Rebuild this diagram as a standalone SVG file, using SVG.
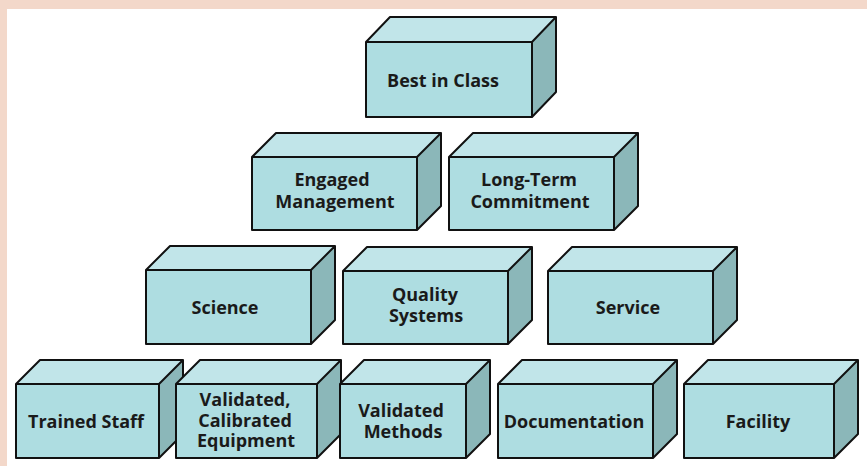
<svg xmlns="http://www.w3.org/2000/svg" width="867" height="466" viewBox="0 0 867 466">
  <style>
    .top { fill: #c1e5e9; }
    .front { fill: #aedde1; }
    .side { fill: #8bb7b9; }
    .edge { fill: none; stroke: #111; stroke-width: 2; stroke-linejoin: round; }
    .label { font-family: "Open Sans", "Liberation Sans", sans-serif; font-weight: 700; font-size: 18px; fill: #1a1a1a; text-anchor: middle; }
  </style>

  <!-- page frame -->
  <rect x="0" y="0" width="867" height="466" fill="#f3d8ca"/>
  <rect x="7" y="9" width="860" height="457" fill="#ffffff"/>

  <!-- row 1 -->
  <g id="best-in-class">
    <polygon class="top" points="366,42 390,17 556,17 532,42"/>
    <polygon class="side" points="532,42 556,17 556,92 532,117"/>
    <rect class="front" x="366" y="42" width="166" height="75"/>
    <path class="edge" d="M366,42 L390,17 L556,17 L556,92 L532,117 L366,117 Z M366,42 L532,42 L556,17 M532,42 L532,117"/>
    <text class="label" x="443" y="87">Best in Class</text>
  </g>

  <!-- row 2 -->
  <g id="engaged-management">
    <polygon class="top" points="252,157 276,133 441,133 417,157"/>
    <polygon class="side" points="417,157 441,133 441,206 417,230"/>
    <rect class="front" x="252" y="157" width="165" height="73"/>
    <path class="edge" d="M252,157 L276,133 L441,133 L441,206 L417,230 L252,230 Z M252,157 L417,157 L441,133 M417,157 L417,230"/>
    <text class="label" x="332" y="186">Engaged</text>
    <text class="label" x="335" y="208">Management</text>
  </g>

  <g id="long-term-commitment">
    <polygon class="top" points="449,157 473,133 638,133 614,157"/>
    <polygon class="side" points="614,157 638,133 638,206 614,230"/>
    <rect class="front" x="449" y="157" width="165" height="73"/>
    <path class="edge" d="M449,157 L473,133 L638,133 L638,206 L614,230 L449,230 Z M449,157 L614,157 L638,133 M614,157 L614,230"/>
    <text class="label" x="529" y="186">Long-Term</text>
    <text class="label" x="530" y="208">Commitment</text>
  </g>

  <!-- row 3 -->
  <g id="science">
    <polygon class="top" points="146,270 170,246 335,246 311,270"/>
    <polygon class="side" points="311,270 335,246 335,320 311,344"/>
    <rect class="front" x="146" y="270" width="165" height="74"/>
    <path class="edge" d="M146,270 L170,246 L335,246 L335,320 L311,344 L146,344 Z M146,270 L311,270 L335,246 M311,270 L311,344"/>
    <text class="label" x="225" y="314">Science</text>
  </g>

  <g id="quality-systems">
    <polygon class="top" points="343,271 367,247 532,247 508,271"/>
    <polygon class="side" points="508,271 532,247 532,320 508,344"/>
    <rect class="front" x="343" y="271" width="165" height="73"/>
    <path class="edge" d="M343,271 L367,247 L532,247 L532,320 L508,344 L343,344 Z M343,271 L508,271 L532,247 M508,271 L508,344"/>
    <text class="label" x="425" y="301">Quality</text>
    <text class="label" x="426" y="322">Systems</text>
  </g>

  <g id="service">
    <polygon class="top" points="548,271 572,247 737,247 713,271"/>
    <polygon class="side" points="713,271 737,247 737,320 713,344"/>
    <rect class="front" x="548" y="271" width="165" height="73"/>
    <path class="edge" d="M548,271 L572,247 L737,247 L737,320 L713,344 L548,344 Z M548,271 L713,271 L737,247 M713,271 L713,344"/>
    <text class="label" x="628" y="314">Service</text>
  </g>

  <!-- row 4 -->
  <g id="trained-staff">
    <polygon class="top" points="16,384 40,360 183,360 159,384"/>
    <polygon class="side" points="159,384 183,360 183,434 159,458"/>
    <rect class="front" x="16" y="384" width="143" height="74"/>
    <path class="edge" d="M16,384 L40,360 L183,360 L183,434 L159,458 L16,458 Z M16,384 L159,384 L183,360 M159,384 L159,458"/>
    <text class="label" x="86" y="428">Trained Staff</text>
  </g>

  <g id="validated-calibrated-equipment">
    <polygon class="top" points="176,384 200,360 341,360 317,384"/>
    <polygon class="side" points="317,384 341,360 341,434 317,458"/>
    <rect class="front" x="176" y="384" width="141" height="74"/>
    <path class="edge" d="M176,384 L200,360 L341,360 L341,434 L317,458 L176,458 Z M176,384 L317,384 L341,360 M317,384 L317,458"/>
    <text class="label" x="245" y="406">Validated,</text>
    <text class="label" x="245" y="427">Calibrated</text>
    <text class="label" x="246" y="447">Equipment</text>
  </g>

  <g id="validated-methods">
    <polygon class="top" points="340,384 364,360 490,360 466,384"/>
    <polygon class="side" points="466,384 490,360 490,434 466,458"/>
    <rect class="front" x="340" y="384" width="126" height="74"/>
    <path class="edge" d="M340,384 L364,360 L490,360 L490,434 L466,458 L340,458 Z M340,384 L466,384 L490,360 M466,384 L466,458"/>
    <text class="label" x="401" y="417">Validated</text>
    <text class="label" x="403" y="438">Methods</text>
  </g>

  <g id="documentation">
    <polygon class="top" points="498,384 522,360 677,360 653,384"/>
    <polygon class="side" points="653,384 677,360 677,434 653,458"/>
    <rect class="front" x="498" y="384" width="155" height="74"/>
    <path class="edge" d="M498,384 L522,360 L677,360 L677,434 L653,458 L498,458 Z M498,384 L653,384 L677,360 M653,384 L653,458"/>
    <text class="label" x="574" y="428">Documentation</text>
  </g>

  <g id="facility">
    <polygon class="top" points="684,384 708,360 858,360 834,384"/>
    <polygon class="side" points="834,384 858,360 858,434 834,458"/>
    <rect class="front" x="684" y="384" width="150" height="74"/>
    <path class="edge" d="M684,384 L708,360 L858,360 L858,434 L834,458 L684,458 Z M684,384 L834,384 L858,360 M834,384 L834,458"/>
    <text class="label" x="758" y="428">Facility</text>
  </g>

  <!-- the boxes stand on their own; there are no links between them -->
  <g id="connectors"/>
</svg>
